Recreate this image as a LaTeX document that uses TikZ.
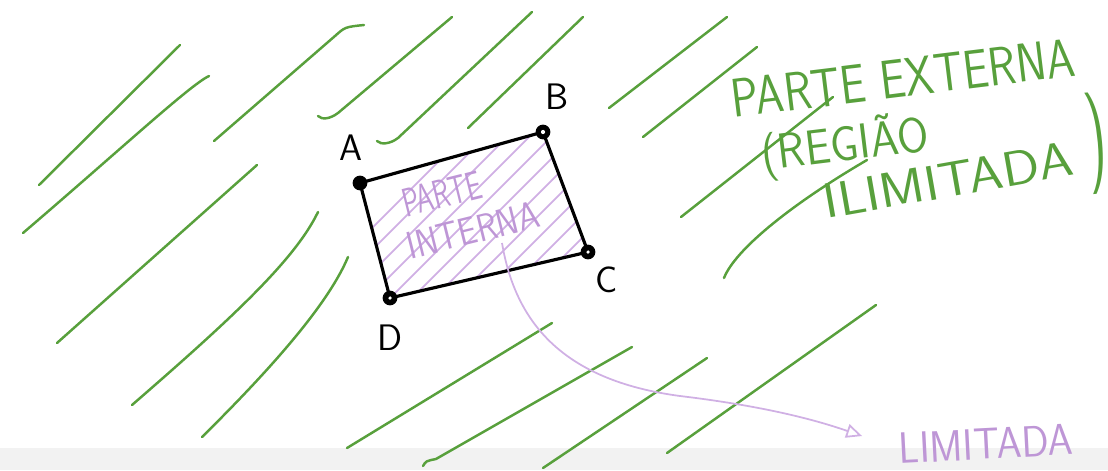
\documentclass[tikz,border=0pt]{standalone}
\usepackage{fontspec}
\usepackage{graphicx}
\usetikzlibrary{arrows.meta}
\definecolor{G0}{RGB}{ 88,160, 60}
\definecolor{P0}{RGB}{208,176,228}
\definecolor{P1}{RGB}{190,150,214}

\begin{document}
\begin{tikzpicture}[x=0.02cm, y=0.02cm,
    verde/.style={G0, line width=1.4pt, line cap=round},
    lilas/.style={P0, line width=1pt, line cap=round}]

    %% Frame
    \useasboundingbox (0,0) rectangle (1108,-470);
    \fill[black!5] (0,-448) rectangle (1108,-470);

    %% --- Vertices ---
    \coordinate (A) at (360,-183);
    \coordinate (B) at (543,-132);
    \coordinate (C) at (588,-252);
    \coordinate (D) at (390,-298);

    %% --- Green hatching (outer region) ---
    \draw[verde] (39,-185) -- (180,-45);
    \draw[verde] (23,-233) .. controls (120,-150) and (190,-85) .. (209,-76);
    \draw[verde] (214,-141) -- (335,-36) .. controls (345,-27) .. (364,-25);
    \draw[verde] (318,-116) .. controls (322,-120) and (330,-119) .. (338,-113) -- (452,-17);
    \draw[verde] (377,-141) .. controls (381,-145) and (390,-144) .. (398,-138) -- (532,-12);
    \draw[verde] (468,-128) -- (583,-17);
    \draw[verde] (57,-343) -- (257,-165);
    \draw[verde] (132,-405) .. controls (230,-320) and (295,-260) .. (318,-212);
    \draw[verde] (202,-437) .. controls (280,-360) and (330,-300) .. (348,-257);
    \draw[verde] (347,-448) -- (552,-323);
    \draw[verde] (423,-466) .. controls (426,-461) .. (436,-459) -- (632,-347);
    \draw[verde] (543,-468) -- (707,-358);
    \draw[verde] (667,-453) -- (876,-305);
    \draw[verde] (609,-108) -- (727,-17);
    \draw[verde] (643,-137) -- (757,-47);
    \draw[verde] (681,-217) -- (833,-97);
    \draw[verde] (724,-278) .. controls (735,-250) and (790,-205) .. (867,-160);

    %% --- Purple hatching (inner region) ---
    \begin{scope}
        \clip (A) -- (B) -- (C) -- (D) -- cycle;
        \foreach \c in {600,622,...,820}
            \draw[lilas] (\c-320,-320) -- (\c-100,-100);
    \end{scope}

    %% --- Quadrilateral ---
    \draw[black, line width=1.8pt, line join=round] (A) -- (B) -- (C) -- (D) -- cycle;

    %% --- Points ---
    \fill[black] (A) circle (4.2pt);
    \fill[black] (B) circle (4.2pt);
    \fill[white] (B) circle (1.2pt);
    \fill[black] (C) circle (4.2pt);
    \fill[white] (C) circle (1pt);
    \fill[black] (D) circle (4.2pt);
    \fill[white] (D) circle (1pt);

    %% Labels
    \node[font=\sffamily\fontsize{21}{21}\selectfont] (lblA) at (351,-148) {A};
    \node[font=\sffamily\fontsize{21}{21}\selectfont] (lblB) at (557,-97) {B};
    \node[font=\sffamily\fontsize{21}{21}\selectfont] (lblC) at (607,-280) {C};
    \node[font=\sffamily\fontsize{21}{21}\selectfont] (lblD) at (390,-338) {D};

    %% Inner text
    \node[P1, inner sep=0pt, rotate=14, font=\sffamily\fontsize{23}{23}\selectfont] (int1) at (442,-194) {\scalebox{0.68}[1]{PARTE}};
    \node[P1, inner sep=0pt, rotate=14, font=\sffamily\fontsize{22}{22}\selectfont] (int2) at (473,-230) {\scalebox{0.87}[1]{INTERNA}};

    %% Outer text
    \node[G0, inner sep=0pt, rotate=7, font=\sffamily\fontsize{31}{31}\selectfont] (ext1) at (903,-78) {\scalebox{0.84}[1]{PARTE EXTERNA}};
    \node[G0, inner sep=0pt, rotate=7, font=\sffamily\fontsize{28}{28}\selectfont] (ext2) at (845,-146) {\scalebox{0.92}[1]{(REGIÃO}};
    \node[G0, inner sep=0pt, rotate=10, font=\sffamily\fontsize{28}{28}\selectfont] (ext3) at (948,-180) {\scalebox{1.12}[1]{ILIMITADA}};
    \node[G0, inner sep=0pt, rotate=5, font=\sffamily\fontsize{58}{58}\selectfont] (ext4) at (1096,-143) {\scalebox{0.55}[1]{)}};

    %% --- Arrow to the bounded part ---
    \coordinate (S) at (502,-243);
    \node[P1, inner sep=0pt, rotate=3, font=\sffamily\fontsize{25}{25}\selectfont] (lim) at (986,-444) {\scalebox{0.92}[1]{LIMITADA}};
    \draw[P0, line width=1pt, shorten >=22pt, -{Triangle[open, length=9pt, width=8pt]}]
        (S) .. controls (515,-320) and (560,-380) .. (680,-396)
            .. controls (780,-408) and (830,-425) .. (lim.west);

\end{tikzpicture}
\end{document}
